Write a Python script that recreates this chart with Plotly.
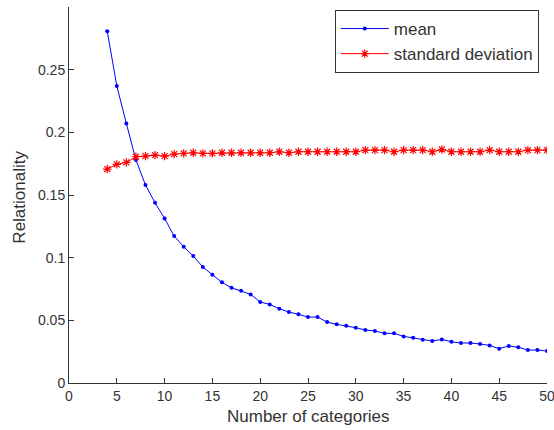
import plotly.graph_objects as go

categories = list(range(4, 51))

mean_vals = [0.2807, 0.237, 0.207, 0.178, 0.158, 0.1438, 0.1313, 0.1172, 0.1087, 0.1013,
             0.0925, 0.0864, 0.0803, 0.0760, 0.0736, 0.0707, 0.0646, 0.0627, 0.0593, 0.0566,
             0.0548, 0.0526, 0.0526, 0.0486, 0.0468, 0.0457, 0.0441, 0.0423, 0.0415, 0.0396,
             0.0396, 0.0372, 0.0361, 0.0345, 0.0335, 0.0348, 0.0329, 0.0319, 0.0319, 0.0311,
             0.0300, 0.0274, 0.0295, 0.0285, 0.0263, 0.0263, 0.0255]

std_vals = [0.1707, 0.1744, 0.176, 0.1805, 0.181, 0.1818, 0.181, 0.1826, 0.1832, 0.1837,
            0.1832, 0.1832, 0.1837, 0.1837, 0.1837, 0.1837, 0.1837, 0.1837, 0.1845, 0.1837,
            0.1845, 0.1845, 0.1845, 0.1845, 0.1845, 0.1845, 0.1845, 0.1858, 0.1858, 0.1858,
            0.1845, 0.1858, 0.1858, 0.1858, 0.1845, 0.1863, 0.1845, 0.1845, 0.1845, 0.1845,
            0.1858, 0.1845, 0.1845, 0.1845, 0.1858, 0.1858, 0.1858]

x_ticks = [0, 5, 10, 15, 20, 25, 30, 35, 40, 45, 50]
y_ticks = [0, 0.05, 0.1, 0.15, 0.2, 0.25]
y_tick_labels = ["0", "0.05", "0.1", "0.15", "0.2", "0.25"]

x_title = "Number of categories"
y_title = "Relationality"

FONT = "Liberation Sans, Arial, sans-serif"
TXT = "#333333"

fig = go.Figure()
fig.add_trace(go.Scatter(
    x=categories, y=mean_vals, name="mean", mode="lines+markers",
    line=dict(color="#0000ff", width=1),
    marker=dict(symbol="circle", size=4, color="#0000ff"),
))
fig.add_trace(go.Scatter(
    x=categories, y=std_vals, name="standard deviation", mode="lines+markers",
    line=dict(color="#ff0000", width=1),
    marker=dict(symbol="asterisk-open", size=7, color="#ff0000",
                line=dict(color="#ff0000", width=1.2)),
))

fig.update_layout(
    width=554, height=430,
    margin=dict(l=69, r=7, t=7, b=47),
    paper_bgcolor="white", plot_bgcolor="white",
    font=dict(family=FONT, size=14, color=TXT),
    showlegend=True,
    legend=dict(
        x=0.556, y=0.992, xanchor="left", yanchor="top",
        bgcolor="white", bordercolor="#333333", borderwidth=1,
        font=dict(family=FONT, size=17, color=TXT),
        tracegroupgap=0, itemwidth=48,
    ),
    xaxis=dict(
        range=[0, 50], tickvals=x_ticks, ticks="inside", ticklen=5,
        tickcolor="#333333", showline=True, linecolor="#333333", linewidth=1,
        showgrid=False, zeroline=False, mirror=False, automargin=False,
        ticklabeloverflow="allow",
    ),
    yaxis=dict(
        range=[0, 0.3], tickvals=y_ticks, ticktext=y_tick_labels, ticks="inside", ticklen=5,
        tickcolor="#333333", showline=True, linecolor="#333333", linewidth=1,
        showgrid=False, zeroline=False, mirror=False, automargin=False,
        ticklabeloverflow="allow",
    ),
    annotations=[
        dict(text=x_title, xref="paper", yref="paper", x=0.5, y=-0.09,
             xanchor="center", yanchor="middle", showarrow=False,
             font=dict(family=FONT, size=17, color=TXT)),
        dict(text=y_title, xref="paper", yref="paper", x=-0.1025, y=0.493,
             xanchor="center", yanchor="middle", showarrow=False, textangle=-90,
             font=dict(family=FONT, size=17, color=TXT)),
    ],
)

fig.write_html("out.html", config={"displayModeBar": False},
               post_script="document.body.style.margin='0';document.body.style.overflow='hidden';")
